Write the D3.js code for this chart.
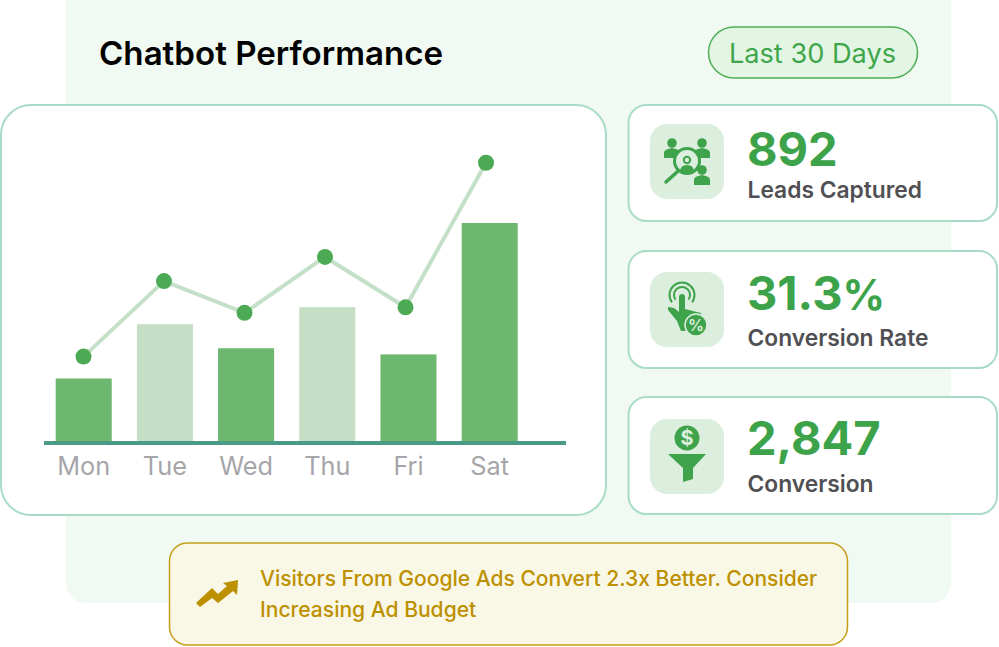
<!DOCTYPE html>
<html>
<head>
<meta charset="utf-8">
<script src="https://cdn.jsdelivr.net/npm/d3@7"></script>
<style>
  html, body { margin: 0; padding: 0; background: #fff; }
  svg { display: block; font-family: Inter, "Noto Sans", sans-serif; }
</style>
</head>
<body>
<svg id="chart" width="999" height="647"></svg>
<script>
const days = ["Mon", "Tue", "Wed", "Thu", "Fri", "Sat"];
const barValues = [29, 53.8, 42.8, 61.6, 40, 100];
const lineValues = [39, 73.5, 59, 84.5, 61.5, 127.5];
const barColors = ["#6db76f", "#c5dfc6", "#6db76f", "#c5dfc6", "#6db76f", "#6db76f"];

const kpiValues = ["892", "31.3", "2,847"];
const kpiSuffix = ["", "%", ""];
const kpiLabels = ["Leads Captured", "Conversion Rate", "Conversion"];

const svg = d3.select("#chart");

function box(x, y, w, h, r, fill, stroke, sw) {
  return svg.append("rect")
    .attr("x", x).attr("y", y)
    .attr("width", w).attr("height", h)
    .attr("rx", r)
    .attr("fill", fill)
    .attr("stroke", stroke || "none")
    .attr("stroke-width", sw || 0);
}

// backgrounds
box(66, -20, 885, 623, 20, "#f0f9f2");
svg.append("text").attr("x", 99).attr("y", 65)
  .attr("font-size", 33.1).attr("font-weight", 600).attr("fill", "#000")
  .text("Chatbot Performance");

box(708.5, 27, 209, 51, 25.5, "#e3f5e3", "#4fae57", 1.5);
svg.append("text").attr("x", 812.5).attr("y", 63)
  .attr("text-anchor", "middle")
  .attr("font-size", 27.2).attr("fill", "#3fa64b")
  .text("Last 30 Days");

// chart card
box(1, 105, 605, 410, 30, "#fff", "#a9dcc6", 2);

const x = d3.scaleBand().domain(days).range([43.1, 530.3]).paddingInner(0.31).paddingOuter(0.155);
const xLine = d3.scalePoint().domain(days).range([83.5, 486]);
const y = d3.scaleLinear().domain([0, 130]).range([442, 157.3]);

svg.selectAll(".bar")
  .data(days)
  .enter()
  .append("rect")
    .attr("class", "bar")
    .attr("x", d => x(d))
    .attr("y", (d, i) => y(barValues[i]))
    .attr("width", x.bandwidth())
    .attr("height", (d, i) => y(0) - y(barValues[i]))
    .attr("fill", (d, i) => barColors[i]);

const line = d3.line()
  .x((d, i) => xLine(days[i]))
  .y(d => y(d));

svg.append("path")
  .attr("d", line(lineValues))
  .attr("fill", "none")
  .attr("stroke", "#c5e0c8")
  .attr("stroke-width", 4);

svg.selectAll(".dot")
  .data(lineValues)
  .enter()
  .append("circle")
    .attr("class", "dot")
    .attr("cx", (d, i) => xLine(days[i]))
    .attr("cy", d => y(d))
    .attr("r", 8)
    .attr("fill", "#4caa55");

// axis, baseline runs past the last band
const xAxis = d3.axisBottom(x).tickSize(0).tickPadding(14);
const axisG = svg.append("g")
  .attr("transform", "translate(0,443)")
  .call(xAxis);
axisG.select(".domain").remove();
axisG.selectAll("text")
  .attr("font-family", "Inter")
  .attr("font-size", 25.3)
  .attr("fill", "#a6a5a9");

svg.append("line")
  .attr("x1", 44).attr("x2", 566)
  .attr("y1", 443).attr("y2", 443)
  .attr("stroke", "#4a9a88")
  .attr("stroke-width", 4);

// KPI cards
const cardTops = [105, 251, 397];
const cardHeights = [116, 117, 117];
const tileTops = [124, 272, 419];
const valueBase = [166, 310, 455];
const labelBase = [198, 346, 492];

kpiValues.forEach((v, i) => {
  box(628.5, cardTops[i], 368.5, cardHeights[i], 18, "#fff", "#a9dcc6", 2);
  box(650, tileTops[i], 74, 75, 17, "#dceedd");
  const t = svg.append("text").attr("x", 747).attr("y", valueBase[i])
    .attr("font-size", 47).attr("font-weight", 700).attr("fill", "#3da34a")
    .text(v);
  if (kpiSuffix[i]) t.append("tspan").attr("font-size", 42).text(kpiSuffix[i]);
  svg.append("text").attr("x", 747.5).attr("y", labelBase[i])
    .attr("font-size", 22.8).attr("font-weight", 600).attr("fill", "#505054")
    .text(kpiLabels[i]);
});

const green = "#3fa34b";
const tile = "#dceedd";

// people / magnifier icon
const ic1 = svg.append("g").attr("fill", green);
[[672, 143], [702, 143], [702, 170]].forEach(p => {
  ic1.append("circle").attr("cx", p[0]).attr("cy", p[1]).attr("r", 4.8);
  ic1.append("path").attr("d", `M${p[0] - 8},${p[1] + 15}v-5q0,-3 4,-4l4,-1l4,1q4,1 4,4v5z`);
});
ic1.append("circle").attr("cx", 687).attr("cy", 161).attr("r", 12.5)
  .attr("fill", tile).attr("stroke", green).attr("stroke-width", 3);
ic1.append("circle").attr("cx", 687).attr("cy", 160).attr("r", 3.2)
  .attr("fill", tile).attr("stroke", green).attr("stroke-width", 2);
ic1.append("path").attr("d", "M680,172q0,-7 7,-7q7,0 7,7q-7,3 -14,0z");
ic1.append("line").attr("x1", 666).attr("y1", 182).attr("x2", 677).attr("y2", 172)
  .attr("stroke", green).attr("stroke-width", 3.5).attr("stroke-linecap", "round");

// tap / percent icon
const ic2 = svg.append("g").attr("fill", green);
[12.5, 8].forEach(r => {
  ic2.append("path").attr("d", d3.arc()({
    innerRadius: r - 1, outerRadius: r + 1,
    startAngle: -2.2, endAngle: 2.2
  })).attr("transform", "translate(682,295)");
});
ic2.append("path").attr("d", "M679,297q0,-3 3,-3q3,0 3,3V309L701,313L703,322L690,331H681L677,321L668,310L668,307L674,308L679,312Z");
ic2.append("circle").attr("cx", 696).attr("cy", 325).attr("r", 11)
  .attr("stroke", tile).attr("stroke-width", 1.5);
ic2.append("text").attr("x", 696).attr("y", 331)
  .attr("text-anchor", "middle").attr("font-size", 16).attr("font-weight", 600)
  .attr("fill", tile).text("%");

// funnel icon
const ic3 = svg.append("g").attr("fill", green);
ic3.append("circle").attr("cx", 687).attr("cy", 438).attr("r", 12.5);
ic3.append("text").attr("x", 687).attr("y", 445)
  .attr("text-anchor", "middle").attr("font-size", 20).attr("font-weight", 700)
  .attr("fill", tile).text("$");
ic3.append("path").attr("d", "M668,454H706L693,468V479L683,482V468Z");

// insight banner
box(169.5, 543, 678, 102, 18, "#f9f7e6", "#c49f1c", 1.5);
svg.append("path")
  .attr("d", "M196,603L212,588L218,594L227,586L223,583L238,580L237,595L233,591L218,603L212,598L200,607Z")
  .attr("fill", "#bd9000");
svg.append("text").attr("x", 260).attr("y", 586)
  .attr("font-size", 21.05).attr("font-weight", 500).attr("fill", "#bd9000")
  .text("Visitors From Google Ads Convert 2.3x Better. Consider");
svg.append("text").attr("x", 260).attr("y", 617)
  .attr("font-size", 21.05).attr("font-weight", 500).attr("fill", "#bd9000")
  .text("Increasing Ad Budget");
</script>
</body>
</html>
